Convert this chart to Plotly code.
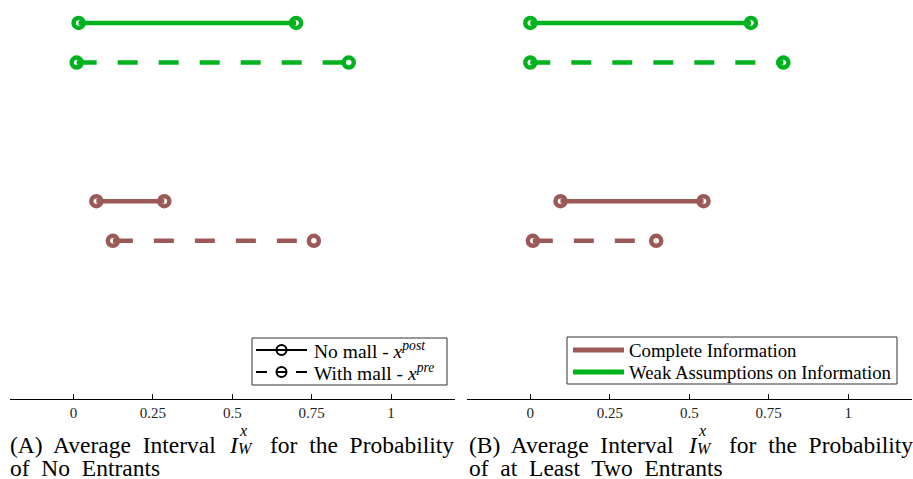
import plotly.graph_objects as go

# ---- data ----
rows = ["Weak, no mall (post)", "Weak, with mall (pre)", "Complete, no mall (post)", "Complete, with mall (pre)"]
y_levels = [1.0, 0.9, 0.55, 0.45]
A_lower = [0.016, 0.010, 0.072, 0.124]
A_upper = [0.701, 0.867, 0.286, 0.757]
B_lower = [0.000, 0.000, 0.095, 0.008]
B_upper = [0.694, 0.796, 0.545, 0.396]
row_info = ["Weak", "Weak", "Complete", "Complete"]
row_dash = ["solid", "pre", "solid", "pre"]
tick_vals = [0, 0.25, 0.5, 0.75, 1]
tick_text = ["0", "0.25", "0.5", "0.75", "1"]
legendA_labels = ["No mall - <i>x</i><sup><i>post</i></sup>", "With mall - <i>x</i><sup><i>pre</i></sup>"]
legendB_labels = ["Complete Information", "Weak Assumptions on Information"]

GREEN = "#00b21e"
BROWN = "#9b5a58"
colors = {"Weak": GREEN, "Complete": BROWN}
DASH = "20px,21px"
FONT = "Liberation Serif"

fig = go.Figure()

for lo, hi, xa in [(A_lower, A_upper, "x"), (B_lower, B_upper, "x2")]:
    for i in range(len(rows)):
        c = colors[row_info[i]]
        fig.add_trace(go.Scatter(
            x=[lo[i], hi[i]], y=[y_levels[i], y_levels[i]],
            xaxis=xa, yaxis="y",
            mode="lines+markers",
            line=dict(color=c, width=4.5, dash=("solid" if row_dash[i] == "solid" else DASH)),
            marker=dict(symbol="circle-open", size=10, color=c, line=dict(width=4.5, color=c)),
            showlegend=False, cliponaxis=False, hoverinfo="skip"))

W = 913.0
H_PLOT = 399.0


def PX(x):
    return x / W


def PY(y):
    return (H_PLOT - y) / H_PLOT


axis_common = dict(range=[-0.2, 1.2], showline=True, linecolor="black", linewidth=1,
                   ticks="inside", ticklen=5, tickcolor="black", tickwidth=1,
                   tickvals=tick_vals, ticktext=tick_text, showgrid=False, zeroline=False,
                   tickfont=dict(family=FONT, size=15, color="#222"), fixedrange=True)

fig.update_layout(
    width=913, height=479,
    margin=dict(l=0, r=0, t=0, b=80),
    plot_bgcolor="white", paper_bgcolor="white",
    xaxis=dict(domain=[10 / W, 454.5 / W], anchor="y", **axis_common),
    xaxis2=dict(domain=[466.7 / W, 911.8 / W], anchor="y", **axis_common),
    yaxis=dict(range=[0.0505, 1.058], visible=False, fixedrange=True),
    showlegend=False,
)


def ann(px, py, txt, size, xanchor="left"):
    fig.add_annotation(x=PX(px), y=PY(py), xref="paper", yref="paper",
                       xanchor=xanchor, yanchor="middle", text=txt, showarrow=False,
                       font=dict(family=FONT, size=size, color="black"), align="left")


def seg(x0, x1, y, color, width):
    fig.add_shape(type="line", xref="paper", yref="paper", x0=PX(x0), x1=PX(x1), y0=PY(y), y1=PY(y),
                  line=dict(color=color, width=width))


def ring(cx, cy, r, color, width):
    fig.add_shape(type="circle", xref="paper", yref="paper",
                  x0=PX(cx - r), x1=PX(cx + r), y0=PY(cy + r), y1=PY(cy - r),
                  line=dict(color=color, width=width), fillcolor="rgba(0,0,0,0)")


def box(x0, x1, y0, y1):
    fig.add_shape(type="rect", xref="paper", yref="paper", x0=PX(x0), x1=PX(x1), y0=PY(y1), y1=PY(y0),
                  line=dict(color="#333", width=1), fillcolor="white", layer="below")


ROWS_Y = [350, 372]

# legend of panel A
box(252, 447, 338, 385)
seg(256, 307, ROWS_Y[0], "black", 2)
ring(281.5, ROWS_Y[0], 5, "black", 2)
seg(256, 267, ROWS_Y[1], "black", 2)
seg(277, 286, ROWS_Y[1], "black", 2)
seg(296, 307, ROWS_Y[1], "black", 2)
ring(281.5, ROWS_Y[1], 5, "black", 2)
for k in range(2):
    ann(312, ROWS_Y[k], legendA_labels[k], 19.5)

# legend of panel B
box(567, 897, 337, 384)
seg(573, 624, ROWS_Y[0], BROWN, 5)
seg(573, 624, ROWS_Y[1], GREEN, 5)
for k in range(2):
    ann(627, ROWS_Y[k], legendB_labels[k], 18.8)

SP = "\u00a0 "
CAP = 23.5

# panel captions, pieces placed to follow the typeset layout
for lab, x0, line2 in [("(A)", 8, "of" + SP + "No" + SP + "Entrants"),
                       ("(B)", 467, "of" + SP + "at" + SP + "Least" + SP + "Two" + SP + "Entrants")]:
    off = x0 - 8
    ann(8 + off, 445, lab + SP + "Average" + SP + "Interval", CAP)
    ann(227 + off, 445, "<i>I</i>", CAP)
    ann(237 + off, 430, "<i>x</i>", 16)
    ann(236 + off, 448, "<i>W</i>", 16)
    ann(268 + off, 445, "for" + SP + "the" + SP + "Probability", CAP)
    ann(8 + off, 468, line2, CAP)

fig.write_html("out.html")
